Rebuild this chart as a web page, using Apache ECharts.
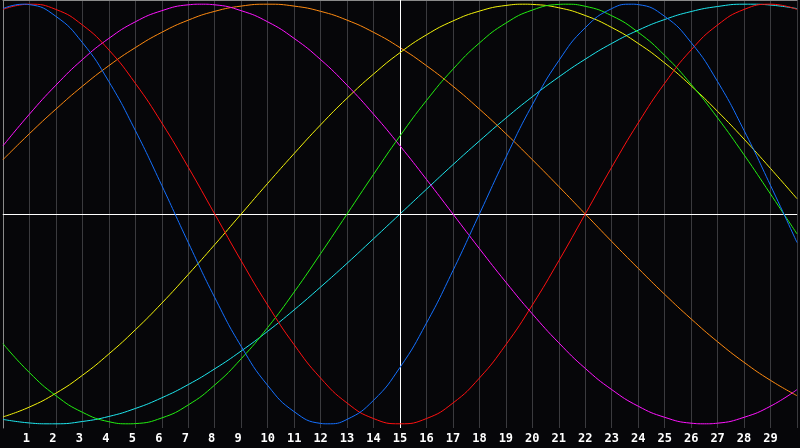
<!DOCTYPE html>
<html>
<head>
<meta charset="utf-8">
<script src="https://cdn.jsdelivr.net/npm/echarts@6/dist/echarts.min.js"></script>
<style>
html,body{margin:0;padding:0;background:#060609;}
#c{width:800px;height:448px;}
</style>
</head>
<body>
<div id="c"></div>
<script>
var days = [0,1,2,3,4,5,6,7,8,9,10,11,12,13,14,15,16,17,18,19,20,21,22,23,24,25,26,27,28,29,30];
var tickLabels = ['','1','2','3','4','5','6','7','8','9','10','11','12','13','14','15','16','17','18','19','20','21','22','23','24','25','26','27','28','29',''];

var physical = [0.979,0.998,0.942,0.817,0.631,0.398,0.136,-0.136,-0.398,-0.631,-0.817,-0.942,-0.998,-0.979,-0.888,-0.731,-0.520,-0.270,0.000,0.270,0.520,0.731,0.888,0.979,0.998,0.942,0.817,0.631,0.398,0.136,-0.136];
var emotional = [0.975,1.000,0.975,0.901,0.782,0.623,0.434,0.223,0.000,-0.223,-0.434,-0.623,-0.782,-0.901,-0.975,-1.000,-0.975,-0.901,-0.782,-0.623,-0.434,-0.223,0.000,0.223,0.434,0.623,0.782,0.901,0.975,1.000,0.975];
var intellectual = [-0.618,-0.756,-0.866,-0.945,-0.990,-0.999,-0.972,-0.910,-0.815,-0.690,-0.541,-0.372,-0.189,0.000,0.189,0.372,0.541,0.690,0.815,0.910,0.972,0.999,0.990,0.945,0.866,0.756,0.618,0.458,0.282,0.095,-0.095];
var intuitive = [0.325,0.476,0.614,0.736,0.837,0.916,0.969,0.997,0.997,0.969,0.916,0.837,0.736,0.614,0.476,0.325,0.165,0.000,-0.165,-0.325,-0.476,-0.614,-0.736,-0.837,-0.916,-0.969,-0.997,-0.997,-0.969,-0.916,-0.837];
var aesthetic = [-0.967,-0.920,-0.854,-0.769,-0.667,-0.552,-0.425,-0.288,-0.146,0.000,0.146,0.288,0.425,0.552,0.667,0.769,0.854,0.920,0.967,0.994,0.999,0.983,0.946,0.889,0.813,0.720,0.611,0.489,0.357,0.217,0.073];
var awareness = [0.259,0.383,0.500,0.609,0.707,0.793,0.866,0.924,0.966,0.991,1.000,0.991,0.966,0.924,0.866,0.793,0.707,0.609,0.500,0.383,0.259,0.131,0.000,-0.131,-0.259,-0.383,-0.500,-0.609,-0.707,-0.793,-0.866];
var spiritual = [-0.979,-0.996,-1.000,-0.989,-0.965,-0.927,-0.876,-0.813,-0.738,-0.653,-0.559,-0.457,-0.348,-0.235,-0.118,0.000,0.118,0.235,0.348,0.457,0.559,0.653,0.738,0.813,0.876,0.927,0.965,0.989,1.000,0.996,0.979];

// turning points (peaks / troughs) read between whole days
var physicalPeakDays = [0.75, 12.25, 23.75];
var physicalPeakVals = [1, -1, 1];
var emotionalPeakDays = [];
var emotionalPeakVals = [];
var intellectualPeakDays = [4.75, 21.25];
var intellectualPeakVals = [-1, 1];
var intuitivePeakDays = [7.5, 26.5];
var intuitivePeakVals = [1, -1];
var aestheticPeakDays = [19.75];
var aestheticPeakVals = [1];
var awarenessPeakDays = [];
var awarenessPeakVals = [];
var spiritualPeakDays = [1.75, 28.25];
var spiritualPeakVals = [-1, 1];

var seriesNames = ['Spiritual','Awareness','Aesthetic','Intuitive','Intellectual','Emotional','Physical'];
var seriesValues = [spiritual, awareness, aesthetic, intuitive, intellectual, emotional, physical];
var seriesPeakDays = [spiritualPeakDays, awarenessPeakDays, aestheticPeakDays, intuitivePeakDays, intellectualPeakDays, emotionalPeakDays, physicalPeakDays];
var seriesPeakVals = [spiritualPeakVals, awarenessPeakVals, aestheticPeakVals, intuitivePeakVals, intellectualPeakVals, emotionalPeakVals, physicalPeakVals];
var seriesColors = ['#1ee6ee','#ff8a10','#f4f40a','#ff14ff','#22ee10','#ff1010','#1470ff'];

function pairs(vals, pd, pv){
  var out = days.map(function(d,i){ return [d, vals[i]]; });
  pd.forEach(function(d, i){ out.push([d, pv[i]]); });
  out.sort(function(a,b){ return a[0]-b[0]; });
  return out;
}

var series = seriesNames.map(function(n, k){
  return {
    name: n, type: 'line', smooth: 0.5, symbol: 'none', silent: true,
    data: pairs(seriesValues[k], seriesPeakDays[k], seriesPeakVals[k]),
    lineStyle: {color: seriesColors[k], width: 1},
    z: 3 + k
  };
});
series.unshift({
  type: 'line', data: [], silent: true, z: 2,
  markLine: {
    silent: true, symbol: ['none','none'], label: {show: false},
    lineStyle: {color: '#ffffff', width: 1, type: 'solid'},
    data: [{xAxis: 15}, {yAxis: 0}]
  }
});

var chart = echarts.init(document.getElementById('c'));
chart.setOption({
  backgroundColor: '#060609',
  animation: false,
  grid: {left: 0, right: 0, top: 0, bottom: 20, containLabel: false},
  xAxis: [{
    type: 'value', min: 0, max: 30, interval: 1,
    axisLine: {show: true, lineStyle: {color: '#9a9a9a', width: 1}},
    axisTick: {show: false},
    splitLine: {show: true, lineStyle: {color: '#3a3a3e', width: 1}},
    axisLabel: {
      show: true, margin: 5, color: '#ffffff', fontFamily: 'DejaVu Sans Mono', fontWeight: 'bold', fontSize: 12,
      formatter: function(v){ var t = tickLabels[Math.round(v)] || ''; return t.length === 1 ? '{s|' + t + '}' : t; },
      rich: {s: {color: '#ffffff', fontFamily: 'DejaVu Sans Mono', fontWeight: 'bold', fontSize: 12, padding: [0, 6, 0, 0]}}
    }
  }, {
    type: 'value', min: 0, max: 30, position: 'top',
    axisLine: {show: true, lineStyle: {color: '#8a8a8a', width: 1}},
    axisTick: {show: false}, axisLabel: {show: false}, splitLine: {show: false}
  }],
  yAxis: {
    type: 'value', min: -1.02, max: 1.02,
    axisLine: {show: true, lineStyle: {color: '#8a8a8a', width: 1}},
    axisTick: {show: false}, axisLabel: {show: false}, splitLine: {show: false}
  },
  series: series
});
</script>
</body>
</html>
